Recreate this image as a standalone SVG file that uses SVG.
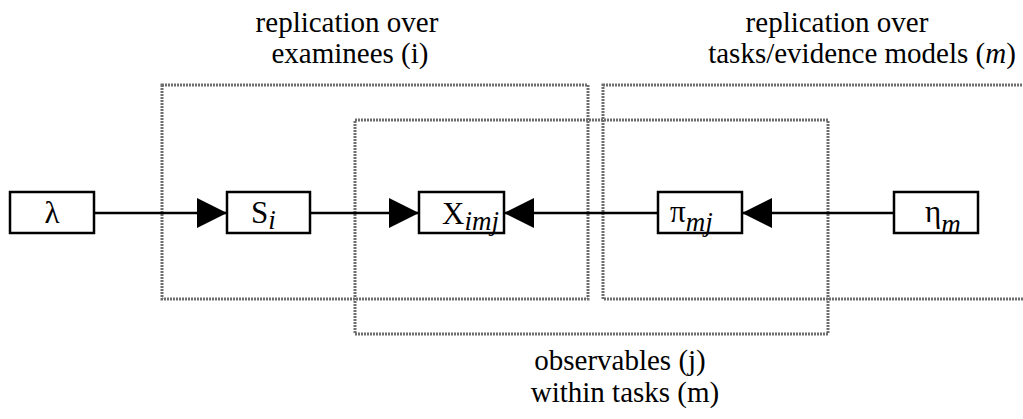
<svg xmlns="http://www.w3.org/2000/svg" width="1023" height="419" viewBox="0 0 1023 419">
<style>
.plate{fill:none;stroke:#6e6e6e;stroke-width:3;stroke-dasharray:2 1}
.node rect{fill:#fff;stroke:#000;stroke-width:2.5}
.lbl{font-family:"Liberation Serif","Times New Roman",serif;font-size:31px;fill:#000}
.sub{font-style:italic;font-size:27px}
.t{font-family:"Liberation Serif","Times New Roman",serif;font-size:29px;fill:#000;text-anchor:middle}
.edge{stroke:#000;stroke-width:2.5;fill:none}
</style>
<defs>
<marker id="ah" markerUnits="userSpaceOnUse" markerWidth="30" markerHeight="30" refX="30" refY="15" orient="auto">
<path d="M0,0 L30,15 L0,30 Z" fill="#000"/>
</marker>
</defs>
<g id="plates">
<rect class="plate" x="162" y="85" width="426" height="214"/>
<rect class="plate" x="603" y="85" width="430" height="214"/>
<rect class="plate" x="355" y="120" width="473" height="214"/>
</g>
<g id="plate-labels">
<text class="t" x="347" y="32">replication over</text>
<text class="t" x="350" y="63">examinees (i)</text>
<text class="t" x="837" y="32">replication over</text>
<text class="t" x="862" y="63">tasks/evidence models (<tspan font-style="italic">m</tspan>)</text>
<text class="t" x="620" y="370">observables (j)</text>
<text class="t" x="625" y="402">within tasks (m)</text>
</g>
<g id="connectors">
<line class="edge" x1="94" y1="213" x2="227" y2="213" marker-end="url(#ah)"/>
<line class="edge" x1="310" y1="213" x2="419" y2="213" marker-end="url(#ah)"/>
<line class="edge" x1="658" y1="213" x2="504" y2="213" marker-end="url(#ah)"/>
<line class="edge" x1="894" y1="213" x2="742" y2="213" marker-end="url(#ah)"/>
</g>
<g id="lambda" class="node">
<rect x="10" y="192" width="84" height="41"/>
<text class="lbl" x="52" y="223" text-anchor="middle">λ</text>
</g>
<g id="S" class="node">
<rect x="227" y="192" width="83" height="41"/>
<text class="lbl" x="251" y="223">S<tspan class="sub" dy="6">i</tspan></text>
</g>
<g id="X" class="node">
<rect x="419" y="192" width="85" height="41"/>
<text class="lbl" x="442" y="224">X<tspan class="sub" dy="6">imj</tspan></text>
</g>
<g id="pi" class="node">
<rect x="658" y="192" width="84" height="41"/>
<text class="lbl" x="670" y="222">π<tspan class="sub" dy="9">mj</tspan></text>
</g>
<g id="eta" class="node">
<rect x="894" y="192" width="84" height="41"/>
<text class="lbl" x="925" y="222">η<tspan class="sub" dy="11">m</tspan></text>
</g>
</svg>
